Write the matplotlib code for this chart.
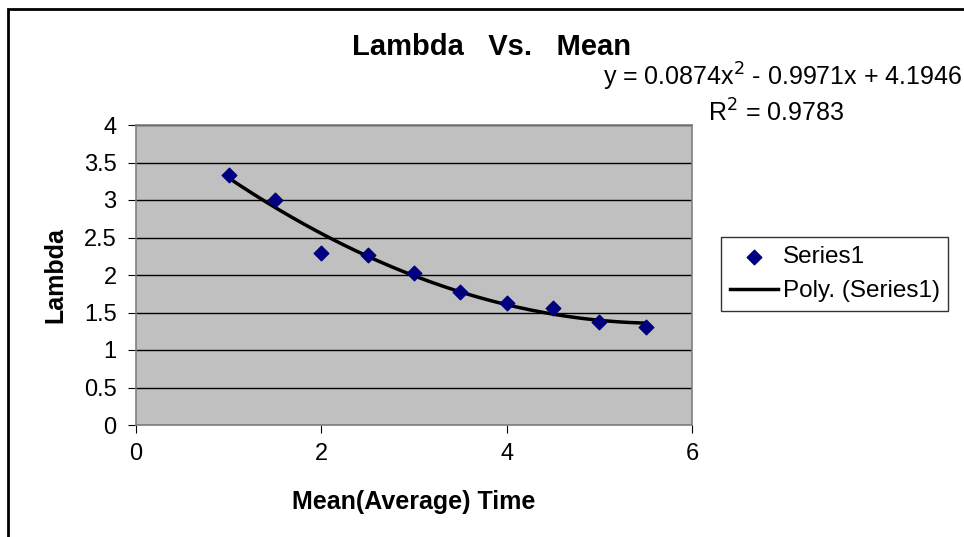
import numpy as np
import matplotlib.pyplot as plt
from matplotlib.patches import Rectangle

plt.rcParams['font.family'] = ['Liberation Sans', 'DejaVu Sans']

# data
mean_time = [1, 1.5, 2, 2.5, 3, 3.5, 4, 4.5, 5, 5.5]
lam = [3.34, 3.0, 2.3, 2.27, 2.03, 1.78, 1.63, 1.56, 1.38, 1.31]
y_ticks = [0, 0.5, 1, 1.5, 2, 2.5, 3, 3.5, 4]
x_ticks = [0, 2, 4, 6]

# polynomial trend line (order 2)
coef = np.polyfit(mean_time, lam, 2)
xs = np.linspace(mean_time[0], mean_time[-1], 200)
ys = np.polyval(coef, xs)

fig = plt.figure(figsize=(9.64, 5.37), dpi=100)
ax = fig.add_axes([136 / 964, 1 - 425 / 537, 556 / 964, 300 / 537])
ax.set_facecolor('#c0c0c0')

for v in y_ticks:
    ax.axhline(v, color='black', lw=1, zorder=1)

ax.scatter(mean_time, lam, marker='D', s=55, color='#000080', zorder=3,
           label='Series1')
ax.plot(xs, ys, color='black', lw=2.5, zorder=2, label='Poly. (Series1)')

ax.set_xlim(0, 6)
ax.set_ylim(0, 4)
ax.set_xticks(x_ticks)
ax.set_yticks(y_ticks)
ax.set_yticklabels(['0', '0.5', '1', '1.5', '2', '2.5', '3', '3.5', '4'])
ax.tick_params(labelsize=17, direction='out', length=6, color='black')
ax.tick_params(axis='y', pad=8)
ax.tick_params(axis='x', pad=7)
for s in ax.spines.values():
    s.set_color('#808080')
    s.set_linewidth(1.2)

ax.set_xlabel('Mean(Average) Time', fontsize=18, fontweight='bold')
ax.set_ylabel('Lambda', fontsize=18, fontweight='bold')
ax.xaxis.set_label_coords(0.5, -0.215)
ax.yaxis.set_label_coords(-0.124, 0.5)

fig.text(492 / 964, 1 - 47 / 537, 'Lambda   Vs.   Mean', ha='center', va='center',
         fontsize=21, fontweight='bold')
fig.text(962 / 964, 1 - 77 / 537,
         'y = 0.0874x$^2$ - 0.9971x + 4.1946', ha='right', va='center',
         fontsize=18)
fig.text(708 / 964, 1 - 113 / 537, 'R$^2$ = 0.9783', ha='left', va='center',
         fontsize=18)

leg = ax.legend(loc='center left', bbox_to_anchor=(721 / 964, 1 - 274 / 537),
                bbox_transform=fig.transFigure, fontsize=17.5, frameon=True,
                fancybox=False, edgecolor='black', handlelength=2.0,
                borderpad=0.35, labelspacing=0.5, handletextpad=0.2,
                borderaxespad=0)
leg.get_frame().set_linewidth(1)

fig.patches.append(Rectangle((8 / 964, -0.01), 2, 1 - 9 / 537 + 0.01,
                             transform=fig.transFigure, fill=False,
                             edgecolor='black', lw=2))

fig.savefig('out.png', dpi=100)
